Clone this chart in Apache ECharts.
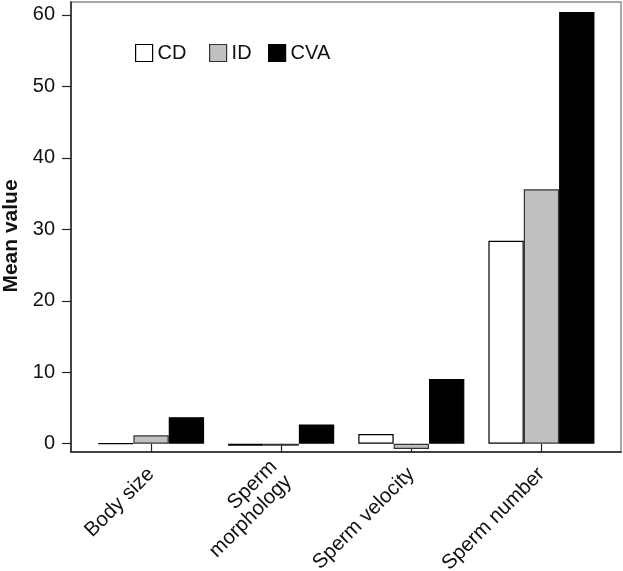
<!DOCTYPE html>
<html>
<head>
<meta charset="utf-8">
<script src="https://cdn.jsdelivr.net/npm/echarts@6/dist/echarts.min.js"></script>
<style>html,body{margin:0;padding:0;background:#fff;}#c{width:623px;height:571px;}</style>
</head>
<body>
<div id="c"></div>
<script>
var categories = ['Body size', 'Sperm\nmorphology', 'Sperm velocity', 'Sperm number'];
var seriesNames = ['CD', 'ID', 'CVA'];
var cdValues = [0.05, -0.3, 1.36, 28.4];
var idValues = [1.17, -0.3, -0.75, 35.6];
var cvaValues = [3.7, 2.7, 9.05, 60.4];
var yTicks = [0, 10, 20, 30, 40, 50, 60];
var yMin = -1.16, yMax = 61.8;

var font = '"Liberation Sans", Arial, sans-serif';
var fills = ['#ffffff', '#c0c0c0', '#000000'];
var borders = ['#000000', '#333333', '#000000'];
var legendLeft = [135, 209, 268];
var valueSets = [cdValues, idValues, cvaValues];

var chart = echarts.init(document.getElementById('c'), null, {renderer: 'canvas'});
var option = {
  animation: false,
  backgroundColor: '#ffffff',
  grid: [
    {left: 86, right: 16.5, top: 2, bottom: 119, outerBoundsMode: 'none', containLabel: false},
    {left: 71, right: 2, top: 2, bottom: 119, outerBoundsMode: 'none', containLabel: false, show: true, borderColor: '#8a8a8a', borderWidth: 1.5, backgroundColor: 'transparent'}
  ],
  legend: seriesNames.map(function (n, i) {
    return {
      data: [n], left: legendLeft[i], top: 43, padding: 0,
      itemWidth: 17, itemHeight: 17, itemGap: 0, icon: 'rect',
      itemStyle: {color: fills[i], borderColor: borders[i], borderWidth: 1.2},
      textStyle: {fontFamily: font, fontSize: 20, color: '#111', padding: [2, 0, 0, 0]},
      selectedMode: false
    };
  }),
  xAxis: [
    {
      gridIndex: 0, type: 'category', data: categories,
      axisLine: {show: false},
      axisTick: {show: true, alignWithLabel: true, length: 9, lineStyle: {color: '#222', width: 1.2}},
      axisLabel: {rotate: 45, margin: 19, padding: [26, 0, 0, 0], fontFamily: font, fontSize: 20.5, color: '#111', lineHeight: 21, interval: 0},
      splitLine: {show: false}
    },
    {
      gridIndex: 1, type: 'value', min: 0, max: 1,
      axisLine: {show: true, onZero: false, lineStyle: {color: '#222', width: 1.5}},
      axisTick: {show: false}, axisLabel: {show: false}, splitLine: {show: false}
    }
  ],
  yAxis: [
    {gridIndex: 0, type: 'value', min: yMin, max: yMax, show: false, splitLine: {show: false}},
    {
      gridIndex: 1, type: 'value', min: yMin, max: yMax,
      axisLine: {show: true, onZero: false, lineStyle: {color: '#222', width: 1.5}},
      axisTick: {show: true, customValues: yTicks, length: 9, lineStyle: {color: '#222', width: 1.2}},
      axisLabel: {show: true, customValues: yTicks, margin: 16, fontFamily: font, fontSize: 20, color: '#111'},
      splitLine: {show: false},
      name: 'Mean value', nameLocation: 'middle', nameGap: 40,
      nameTextStyle: {fontFamily: font, fontSize: 21, fontWeight: 'bold', color: '#111', padding: [0, 18, 0, 0]}
    }
  ],
  series: seriesNames.map(function (n, i) {
    return {
      name: n, type: 'bar', xAxisIndex: 0, yAxisIndex: 0,
      data: valueSets[i], barGap: '0%', barCategoryGap: '18.5%',
      itemStyle: {color: fills[i], borderColor: borders[i], borderWidth: 1.2}
    };
  })
};
chart.setOption(option);
</script>
</body>
</html>
